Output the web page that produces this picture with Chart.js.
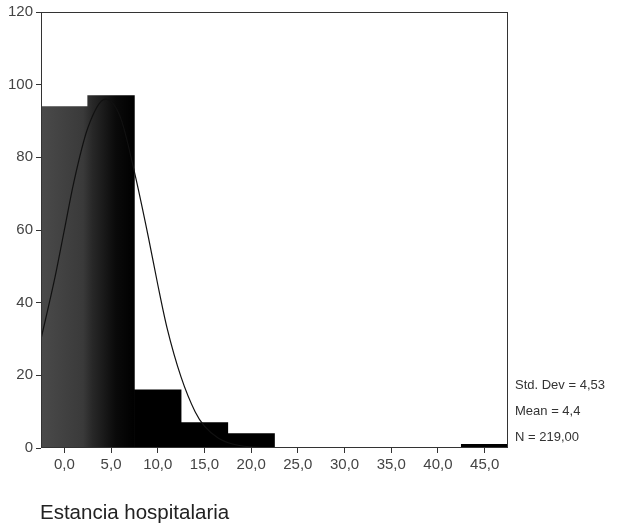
<!DOCTYPE html>
<html>
<head>
<meta charset="utf-8">
<script src="https://cdn.jsdelivr.net/npm/chart.js@4.4.1/dist/chart.umd.min.js"></script>
<style>
  body { margin: 0; background: #fff; }
  #wrap { position: relative; width: 628px; height: 532px; font-family: "Liberation Sans", Arial, sans-serif; }
  #stats { position: absolute; left: 515px; top: 372px; font-size: 13px; color: #333; line-height: 26px; }
  #title { position: absolute; left: 40px; top: 500px; font-size: 20.5px; color: #222; }
</style>
</head>
<body>
<div id="wrap">
  <canvas id="histChart" width="628" height="532"></canvas>
  <div id="stats">
    <div>Std. Dev = 4,53</div>
    <div>Mean = 4,4</div>
    <div>N = 219,00</div>
  </div>
  <div id="title">Estancia hospitalaria</div>
</div>
<script>
// Bin centres and counts (bin width 5)
const binCenters = [0, 5, 10, 15, 20, 25, 30, 35, 40, 45];
const binCounts = [94, 97, 16, 7, 4, 0, 0, 0, 0, 1];

// Fitted normal curve
const curveX = [-2.5, -1, 0, 1, 2.5, 4.4, 6, 7.5, 9, 10, 11, 12.5, 14, 15, 16.5, 18, 20, 22.5];
const curveY = [30, 47, 60, 73, 88, 96, 91, 76, 58, 45, 33, 19.5, 10, 6, 2.7, 1.1, 0.3, 0];

const xTicks = [0, 5, 10, 15, 20, 25, 30, 35, 40, 45];
const yTicks = [0, 20, 40, 60, 80, 100, 120];

const ctx = document.getElementById('histChart').getContext('2d');

// dark grey to black fill like the scanned bars
function barFill(c) {
    const chart = c.chart;
    if (!chart.chartArea) return '#000';
    const xs = chart.scales.x;
    const g = chart.ctx.createLinearGradient(xs.getPixelForValue(-2.5), 0, xs.getPixelForValue(7.5), 0);
    g.addColorStop(0, '#4a4a4a');
    g.addColorStop(0.45, '#3a3a3a');
    g.addColorStop(0.55, '#282828');
    g.addColorStop(0.8, '#0a0a0a');
    g.addColorStop(1, '#000');
    return g;
}

// box around the plot area
const frame = {
    id: 'frame',
    afterDraw(chart) {
        const a = chart.chartArea;
        const c = chart.ctx;
        c.save();
        c.strokeStyle = '#333';
        c.lineWidth = 1;
        c.strokeRect(a.left + 0.5, a.top + 0.5, a.right - a.left - 1, a.bottom - a.top - 1);
        c.restore();
    }
};

const fmt = v => v.toFixed(1).replace('.', ',');

new Chart(ctx, {
    data: {
        datasets: [{
            type: 'line',
            data: curveX.map((x, i) => ({x: x, y: curveY[i]})),
            borderColor: '#111',
            borderWidth: 1.2,
            pointRadius: 0,
            cubicInterpolationMode: 'monotone',
            order: 0
        }, {
            type: 'bar',
            data: binCenters.map((x, i) => ({x: x, y: binCounts[i]})),
            backgroundColor: barFill,
            borderWidth: 0,
            barPercentage: 1,
            categoryPercentage: 1,
            order: 1
        }]
    },
    options: {
        responsive: false,
        animation: false,
        layout: { padding: { left: 0, right: 120, top: 12, bottom: 54 } },
        plugins: { legend: { display: false }, tooltip: { enabled: false } },
        scales: {
            x: {
                type: 'linear',
                min: -2.5,
                max: 47.5,
                offset: false,
                afterBuildTicks: s => { s.ticks = xTicks.map(v => ({value: v})); },
                afterFit: s => { s.height = 30; },
                grid: { offset: false, drawOnChartArea: false, drawTicks: true, tickLength: 5, color: '#333' },
                border: { display: false },
                ticks: {
                    callback: v => fmt(v),
                    color: '#444',
                    font: { family: 'Liberation Sans', size: 15 },
                    padding: 3,
                    maxRotation: 0
                }
            },
            y: {
                min: 0,
                max: 120,
                afterBuildTicks: s => { s.ticks = yTicks.map(v => ({value: v})); },
                afterFit: s => { s.width = 41; },
                grid: { drawOnChartArea: false, drawTicks: true, tickLength: 5, color: '#333' },
                border: { display: false },
                ticks: {
                    color: '#444',
                    font: { family: 'Liberation Sans', size: 15 },
                    padding: 3
                }
            }
        }
    },
    plugins: [frame]
});
</script>
</body>
</html>
